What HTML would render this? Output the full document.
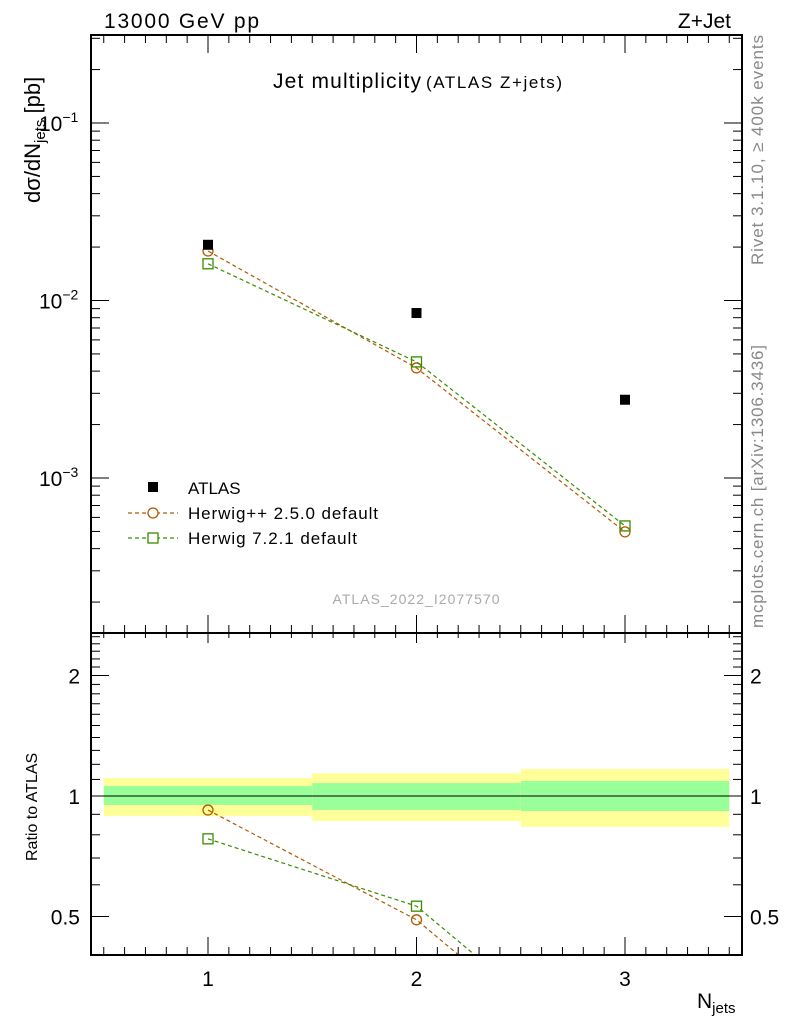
<!DOCTYPE html>
<html><head><meta charset="utf-8"><style>
html,body{margin:0;background:#fff;overflow:hidden;width:786px;height:1024px;}
svg{display:block;font-family:"Liberation Sans",sans-serif;}
</style></head><body>
<svg id="c" width="786" height="1024" xmlns="http://www.w3.org/2000/svg"></svg>
<script>
const categories=[1,2,3];
const atlas=[0.0206,0.0085,0.00276];
const herwigpp=[0.0190,0.00417,0.000497];
const herwig7=[0.0161,0.00451,0.000537];
const binEdges=[0.5,1.5,2.5,3.5];
const statUp=[1.059,1.077,1.09];
const statDn=[0.95,0.923,0.917];
const totUp=[1.109,1.14,1.168];
const totDn=[0.891,0.866,0.837];
const yTicks=[0.1,0.01,0.001];
const yTickLabels=["10","10","10"];
const yTickExp=["−1","−2","−3"];
const rTicks=[0.5,1,2];
const rTickLabels=["0.5","1","2"];
const xTicks=[1,2,3];

const NS="http://www.w3.org/2000/svg";
const svg=document.getElementById('c');
const L=91,R=742,T=35,M=633,B=955;
const X=v=>208+(v-1)*208.5;
const Y=v=>123-(Math.log10(v)+1)*177.5;
const RY=v=>796-Math.log2(v)*120.5;
function el(tag,a,name,parent){const e=document.createElementNS(NS,tag);for(const k in a)e.setAttribute(k,a[k]);


(parent||svg).appendChild(e);return e;}
function txt(x,y,s,size,name,extra){const e=el('text',Object.assign({x:x,y:y,'font-size':size,fill:'#000'},extra||{}),name);e.textContent=s;return e;}

for(let i=0;i<3;i++){
 el('rect',{x:X(binEdges[i]),y:RY(totUp[i]),width:X(binEdges[i+1])-X(binEdges[i]),height:RY(totDn[i])-RY(totUp[i]),fill:'#ffff99'},'total-uncertainty-band');
 el('rect',{x:X(binEdges[i]),y:RY(statUp[i]),width:X(binEdges[i+1])-X(binEdges[i]),height:RY(statDn[i])-RY(statUp[i]),fill:'#99ff99'},'stat-uncertainty-band');
}
el('line',{x1:X(0.5),x2:X(3.5),y1:RY(1),y2:RY(1),stroke:'#000','stroke-width':1},'ratio-reference-line');

const defs=el('defs',{},'defs');
const cp=el('clipPath',{id:'rc'},'clip',defs);
el('rect',{x:L,y:M,width:R-L,height:B-M},'clip-rect',cp);
const cp2=el('clipPath',{id:'mc'},'clip',defs);
el('rect',{x:L,y:T,width:R-L,height:M-T},'clip-rect',cp2);

function series(vals,color,shape,name,yf,clip){
 const g=el('g',{'clip-path':'url(#'+clip+')'},name);
 el('polyline',{points:vals.map((v,i)=>X(categories[i])+','+yf(v)).join(' '),fill:'none',stroke:color,'stroke-width':1.2,'stroke-dasharray':'4,3'},name+'-line',g);
 vals.forEach((v,i)=>{
  if(shape==='c')el('circle',{cx:X(categories[i]),cy:yf(v),r:5,fill:'none',stroke:color,'stroke-width':1.3},name+'-marker',g);
  else el('rect',{x:X(categories[i])-5,y:yf(v)-5,width:10,height:10,fill:'none',stroke:color,'stroke-width':1.3},name+'-marker',g);
 });
}
series(herwigpp,'#b35900','c','herwigpp-series',Y,'mc');
series(herwig7,'#3a8c00','s','herwig7-series',Y,'mc');
series(herwigpp.map((v,i)=>v/atlas[i]),'#b35900','c','herwigpp-ratio',RY,'rc');
series(herwig7.map((v,i)=>v/atlas[i]),'#3a8c00','s','herwig7-ratio',RY,'rc');
atlas.forEach((v,i)=>el('rect',{x:X(categories[i])-5,y:Y(v)-5,width:10,height:10,fill:'#000'},'atlas-point'));

el('rect',{x:L,y:T,width:R-L,height:M-T,fill:'none',stroke:'#000','stroke-width':2},'main-frame');
el('rect',{x:L,y:M,width:R-L,height:B-M,fill:'none',stroke:'#000','stroke-width':2},'ratio-frame');

for(let k=5;k<=35;k++){const v=k/10,x=X(v);const maj=(k%10===0);const len=maj?18:8;
 [T,M,B].forEach(y0=>{ if(y0===T||y0===B){el('line',{x1:x,x2:x,y1:y0,y2:y0+(y0===T?len:-len),stroke:'#000','stroke-width':1},'x-tick');}
 else{el('line',{x1:x,x2:x,y1:y0,y2:y0-len,stroke:'#000','stroke-width':1},'x-tick');el('line',{x1:x,x2:x,y1:y0,y2:y0+(maj?10:5),stroke:'#000','stroke-width':1},'x-tick');}});}
xTicks.forEach(v=>txt(X(v),986,String(v),21,'x-tick-label',{'text-anchor':'middle'}));

for(let d=-4;d<=-1;d++)for(let m=1;m<=9;m++){const v=m*Math.pow(10,d),y=Y(v);if(y<T||y>M)continue;
 const len=m===1?18:9;
 el('line',{x1:L,x2:L+len,y1:y,y2:y,stroke:'#000','stroke-width':1},'y-tick');
 el('line',{x1:R,x2:R-len,y1:y,y2:y,stroke:'#000','stroke-width':1},'y-tick');}
yTicks.forEach((v,i)=>{const t=txt(39,Y(v)+8,yTickLabels[i],21,'y-tick-label');
 const s=document.createElementNS(NS,'tspan');s.setAttribute('dy','-9');s.setAttribute('font-size','14');s.textContent=yTickExp[i];t.appendChild(s);});

for(let k=4;k<=25;k++){const v=k/10,y=RY(v);if(y<M||y>B)continue;const maj=(k===5||k===10||k===20);const len=maj?18:9;
 el('line',{x1:L,x2:L+len,y1:y,y2:y,stroke:'#000','stroke-width':1},'ratio-tick');
 el('line',{x1:R,x2:R-len,y1:y,y2:y,stroke:'#000','stroke-width':1},'ratio-tick');}
rTicks.forEach((v,i)=>{txt(80,RY(v)+8,rTickLabels[i],21,'ratio-tick-label-left',{'text-anchor':'end'});txt(750,RY(v)+8,rTickLabels[i],21,'ratio-tick-label-right');});

txt(104,28,'13000 GeV pp',21,'energy-label',{textLength:155});
txt(731,28,'Z+Jet',21,'process-label',{'text-anchor':'end'});
txt(273,88,'Jet multiplicity',21,'plot-title',{textLength:148});
txt(426,88,'(ATLAS Z+jets)',17,'plot-subtitle',{textLength:136});
const yl=txt(0,0,'dσ/dN',22,'y-axis-title',{transform:'translate(40,203) rotate(-90)'});
const ys=document.createElementNS(NS,'tspan');ys.setAttribute('dy','5');ys.setAttribute('font-size','15');ys.textContent='jets';yl.appendChild(ys);
const ys2=document.createElementNS(NS,'tspan');ys2.setAttribute('dy','-5');ys2.textContent=' [pb]';yl.appendChild(ys2);
txt(0,0,'Ratio to ATLAS',16,'ratio-axis-title',{transform:'translate(37,861) rotate(-90)'});
const xl=txt(697,1008,'N',21,'x-axis-title');
const xs=document.createElementNS(NS,'tspan');xs.setAttribute('dy','5');xs.setAttribute('font-size','15');xs.textContent='jets';xl.appendChild(xs);
txt(0,0,'Rivet 3.1.10, ≥ 400k events',17,'rivet-label',{transform:'translate(763,265) rotate(-90)',fill:'#888',textLength:230});
txt(0,0,'mcplots.cern.ch [arXiv:1306.3436]',17,'mcplots-label',{transform:'translate(763,628) rotate(-90)',fill:'#888',textLength:283});
txt(416,604,'ATLAS_2022_I2077570',14,'analysis-id',{fill:'#aaa','text-anchor':'middle',textLength:167});

el('rect',{x:148,y:482,width:10,height:10,fill:'#000'},'legend-atlas-marker');
txt(188,494,'ATLAS',17,'legend-atlas');
el('line',{x1:128,x2:178,y1:513,y2:513,stroke:'#b35900','stroke-dasharray':'4,3','stroke-width':1.2},'legend-herwigpp-line');
el('circle',{cx:153,cy:513,r:5,fill:'#fff',stroke:'#b35900','stroke-width':1.3},'legend-herwigpp-marker');
txt(188,519,'Herwig++ 2.5.0 default',17,'legend-herwigpp',{textLength:190});
el('line',{x1:128,x2:178,y1:538,y2:538,stroke:'#3a8c00','stroke-dasharray':'4,3','stroke-width':1.2},'legend-herwig7-line');
el('rect',{x:148,y:533,width:10,height:10,fill:'#fff',stroke:'#3a8c00','stroke-width':1.3},'legend-herwig7-marker');
txt(188,544,'Herwig 7.2.1 default',17,'legend-herwig7',{textLength:169});
</script>
</body></html>
